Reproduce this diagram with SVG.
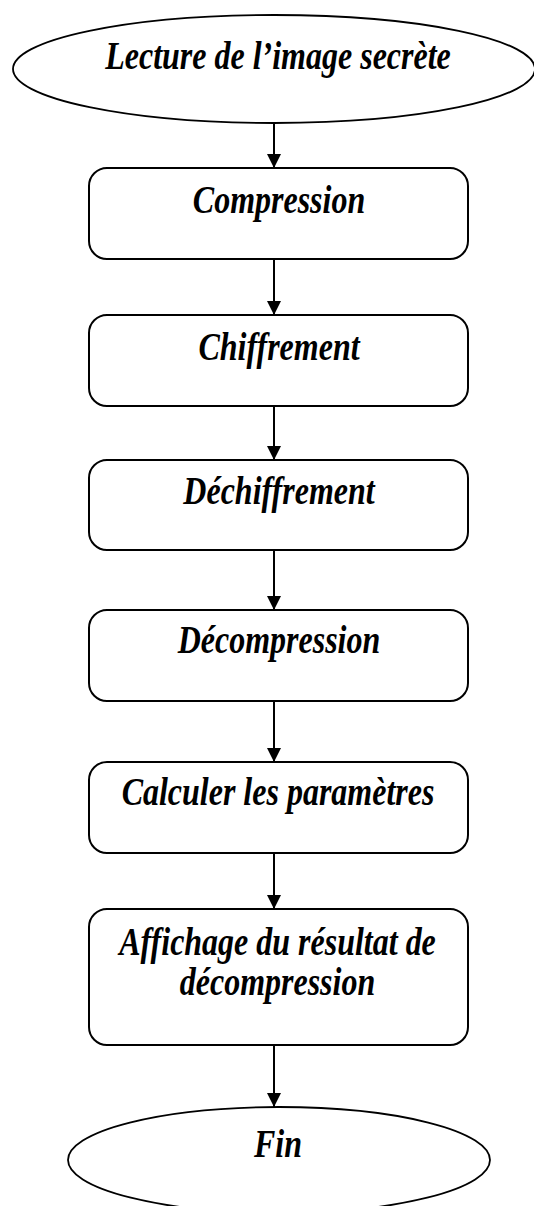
<svg xmlns="http://www.w3.org/2000/svg" width="534" height="1206" viewBox="0 0 534 1206">
  <style>
    .shape { fill: #ffffff; stroke: #000000; stroke-width: 2; }
    .oval { fill: #ffffff; stroke: #000000; stroke-width: 1.8; }
    .label { font-family: "Liberation Serif", "Times New Roman", serif; font-weight: bold; font-style: italic; font-size: 32px; fill: #000000; text-anchor: middle; }
    .edge { stroke: #000000; stroke-width: 2; fill: none; marker-end: url(#arrow); }
  </style>
  <defs>
    <marker id="arrow" markerUnits="userSpaceOnUse" markerWidth="14" markerHeight="16" refX="14" refY="7" orient="auto">
      <path d="M0,0 L14,7 L0,14 Z" fill="#000000"/>
    </marker>
  </defs>
  <rect width="534" height="1206" fill="#ffffff"/>

  <g id="connectors">
    <line class="edge" x1="274" y1="123" x2="274" y2="168"/>
    <line class="edge" x1="274" y1="259" x2="274" y2="315"/>
    <line class="edge" x1="274" y1="406" x2="274" y2="460"/>
    <line class="edge" x1="274" y1="550" x2="274" y2="610"/>
    <line class="edge" x1="274" y1="701" x2="274" y2="762"/>
    <line class="edge" x1="274" y1="853" x2="274" y2="909"/>
    <line class="edge" x1="274" y1="1045" x2="274" y2="1107"/>
  </g>

  <g id="start">
    <ellipse class="oval" cx="274" cy="69" rx="261" ry="54"/>
    <text class="label" transform="translate(278,68.5) scale(1,1.27)">Lecture de l’image secrète</text>
  </g>

  <g id="compression">
    <rect class="shape" x="89" y="168" width="379" height="91" rx="18" ry="18"/>
    <text class="label" transform="translate(279,212.5) scale(1,1.27)">Compression</text>
  </g>

  <g id="chiffrement">
    <rect class="shape" x="89" y="315" width="379" height="91" rx="18" ry="18"/>
    <text class="label" transform="translate(279,360) scale(1,1.27)">Chiffrement</text>
  </g>

  <g id="dechiffrement">
    <rect class="shape" x="89" y="460" width="379" height="90" rx="18" ry="18"/>
    <text class="label" transform="translate(279,504) scale(1,1.27)">Déchiffrement</text>
  </g>

  <g id="decompression">
    <rect class="shape" x="89" y="610" width="379" height="91" rx="18" ry="18"/>
    <text class="label" transform="translate(279,653) scale(1,1.27)">Décompression</text>
  </g>

  <g id="parametres">
    <rect class="shape" x="89" y="762" width="379" height="91" rx="18" ry="18"/>
    <text class="label" transform="translate(278,805) scale(1,1.27)">Calculer les paramètres</text>
  </g>

  <g id="affichage">
    <rect class="shape" x="89" y="909" width="379" height="136" rx="18" ry="18"/>
    <text class="label" transform="translate(277.5,955) scale(1,1.27)">Affichage du résultat de</text>
    <text class="label" transform="translate(277.5,995) scale(1,1.27)">décompression</text>
  </g>

  <g id="fin">
    <ellipse class="oval" cx="279" cy="1160" rx="211" ry="53"/>
    <text class="label" transform="translate(278,1157) scale(1,1.27)">Fin</text>
  </g>
</svg>
